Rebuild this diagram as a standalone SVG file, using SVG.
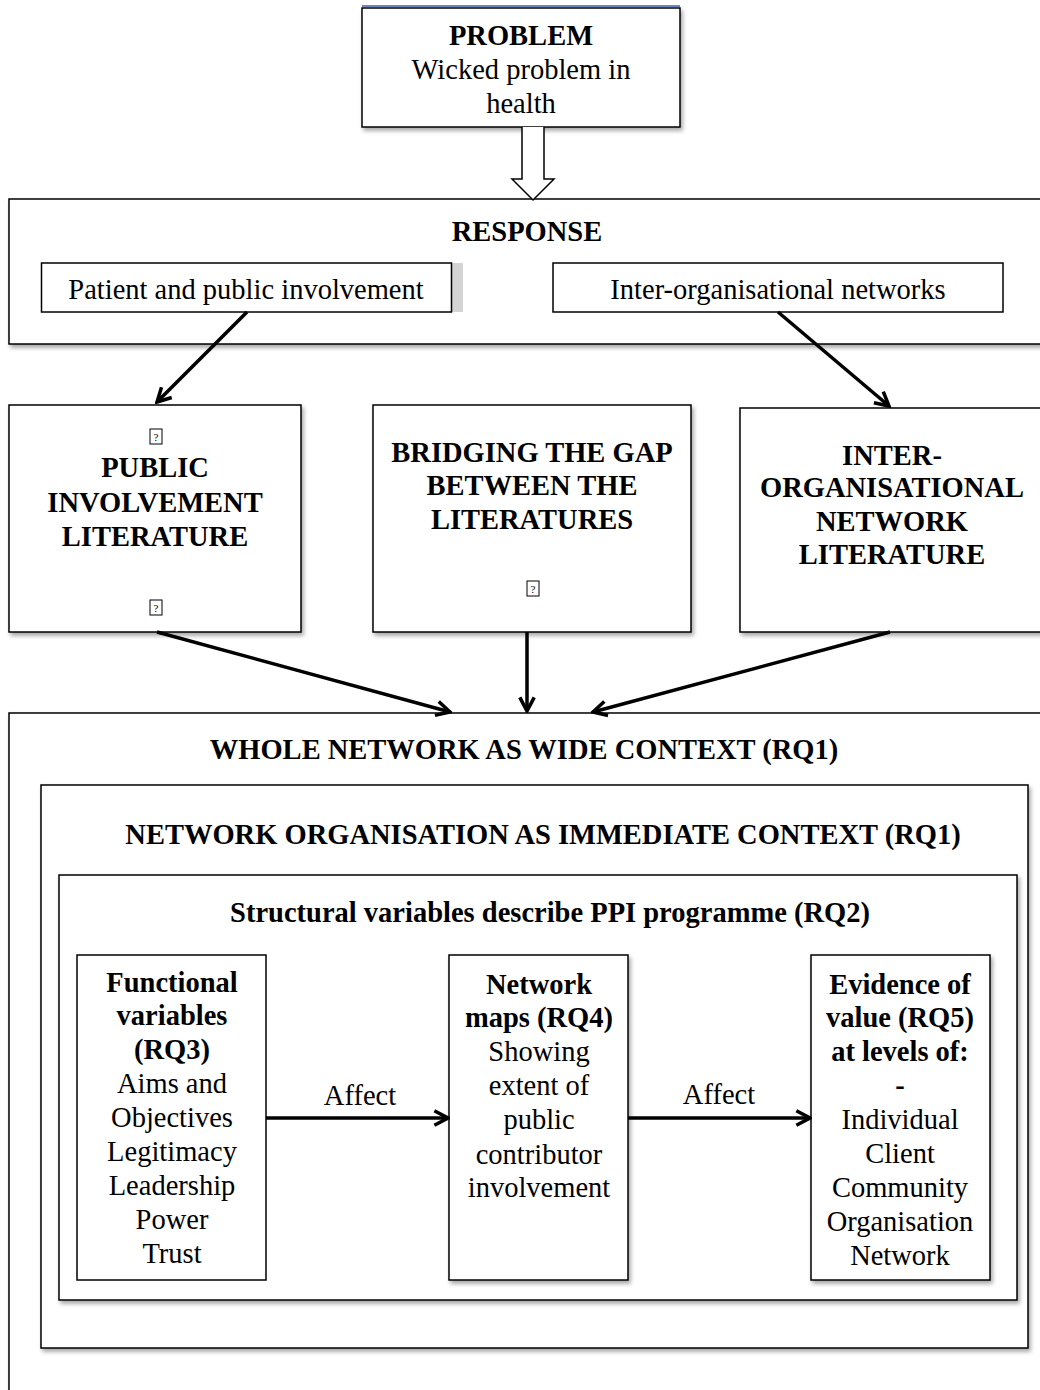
<svg xmlns="http://www.w3.org/2000/svg" width="1040" height="1390" viewBox="0 0 1040 1390">
  <style>
    .box { fill: #fff; stroke: #000; stroke-width: 1.5; }
    .sh { filter: url(#shadow); }
    .t { font-family: "Liberation Serif", "Times New Roman", serif; fill: #000; text-anchor: middle; }
    .r { font-size: 28.5px; }
    .b { font-size: 28.5px; font-weight: bold; }
    .b2 { font-size: 28.5px; font-weight: bold; }
    .q { font-family: "Liberation Serif", serif; font-size: 11px; text-anchor: middle; fill: #000; }
    .qb { fill: #fff; stroke: #000; stroke-width: 1; }
    .conn { stroke: #000; stroke-width: 3.5; fill: none; marker-end: url(#head); }
  </style>
  <defs>
    <filter id="shadow" x="-5%" y="-5%" width="115%" height="115%">
      <feDropShadow dx="2" dy="3" stdDeviation="2" flood-color="#000" flood-opacity="0.35"/>
    </filter>
    <marker id="head" viewBox="0 0 12 12" refX="10.5" refY="6" markerWidth="5.5" markerHeight="5.5" orient="auto" markerUnits="strokeWidth">
      <path d="M2,1.5 L10.5,6 L2,10.5" fill="none" stroke="#000" stroke-width="2.2" stroke-linejoin="miter"/>
    </marker>
  </defs>

  <rect width="1040" height="1390" fill="#fff"/>

  <!-- problem statement -->
  <g id="problem">
    <line x1="362" y1="6" x2="680" y2="6" stroke="#3a5fa8" stroke-width="1.5"/>
    <rect class="box sh" x="362" y="8" width="318" height="119"/>
    <text class="t b2" x="521" y="45">PROBLEM</text>
    <text class="t r" x="521" y="79">Wicked problem in</text>
    <text class="t r" x="521" y="113">health</text>
  </g>

  <!-- response block -->
  <g id="response">
    <rect class="box sh" x="9" y="199" width="1040" height="145"/>
    <text class="t b2" x="527" y="241">RESPONSE</text>
  </g>
  <g id="ppi">
    <rect x="452" y="263" width="11" height="49" fill="#d4d4d4"/>
    <rect class="box" x="41.5" y="263" width="410" height="49"/>
    <text class="t r" x="246" y="299">Patient and public involvement</text>
  </g>
  <g id="ion">
    <rect class="box" x="553" y="263" width="450" height="49"/>
    <text class="t r" x="778" y="299">Inter-organisational networks</text>
  </g>

  <!-- literatures -->
  <g id="lit-public">
    <rect class="box sh" x="9" y="405" width="292" height="227"/>
    <rect class="qb" x="150" y="429" width="12" height="15"/>
    <text class="q" x="156" y="441">?</text>
    <text class="t b" x="155" y="477">PUBLIC</text>
    <text class="t b" x="155" y="512">INVOLVEMENT</text>
    <text class="t b" x="155" y="546">LITERATURE</text>
    <rect class="qb" x="150" y="600" width="12" height="15"/>
    <text class="q" x="156" y="612">?</text>
  </g>
  <g id="lit-bridge">
    <rect class="box sh" x="373" y="405" width="318" height="227"/>
    <text class="t b" x="532" y="462">BRIDGING THE GAP</text>
    <text class="t b" x="532" y="495">BETWEEN THE</text>
    <text class="t b" x="532" y="529">LITERATURES</text>
    <rect class="qb" x="527" y="581" width="12" height="15"/>
    <text class="q" x="533" y="593">?</text>
  </g>
  <g id="lit-network">
    <rect class="box sh" x="740" y="408" width="310" height="224"/>
    <text class="t b" x="892" y="465">INTER-</text>
    <text class="t b" x="892" y="497">ORGANISATIONAL</text>
    <text class="t b" x="892" y="531">NETWORK</text>
    <text class="t b" x="892" y="564">LITERATURE</text>
  </g>

  <!-- nested contexts -->
  <g id="whole-network">
    <rect class="box sh" x="9" y="713" width="1045" height="700"/>
    <text class="t b" x="524" y="759">WHOLE NETWORK AS WIDE CONTEXT (RQ1)</text>
  </g>
  <g id="network-org">
    <rect class="box sh" x="41" y="785" width="987" height="563"/>
    <text class="t b" x="543" y="844">NETWORK ORGANISATION AS IMMEDIATE CONTEXT (RQ1)</text>
  </g>
  <g id="structural">
    <rect class="box sh" x="59" y="875" width="958" height="425"/>
    <text class="t b2" x="550" y="922">Structural variables describe PPI programme (RQ2)</text>
  </g>

  <g id="functional">
    <rect class="box" x="77" y="955" width="189" height="325"/>
    <text class="t b2" x="172" y="992">Functional</text>
    <text class="t b2" x="172" y="1025">variables</text>
    <text class="t b2" x="172" y="1059">(RQ3)</text>
    <text class="t r" x="172" y="1093">Aims and</text>
    <text class="t r" x="172" y="1127">Objectives</text>
    <text class="t r" x="172" y="1161">Legitimacy</text>
    <text class="t r" x="172" y="1195">Leadership</text>
    <text class="t r" x="172" y="1229">Power</text>
    <text class="t r" x="172" y="1263">Trust</text>
  </g>
  <g id="maps">
    <rect class="box sh" x="449" y="955" width="179" height="325"/>
    <text class="t b2" x="539" y="994">Network</text>
    <text class="t b2" x="539" y="1027">maps (RQ4)</text>
    <text class="t r" x="539" y="1061">Showing</text>
    <text class="t r" x="539" y="1095">extent of</text>
    <text class="t r" x="539" y="1129">public</text>
    <text class="t r" x="539" y="1164">contributor</text>
    <text class="t r" x="539" y="1197">involvement</text>
  </g>
  <g id="evidence">
    <rect class="box sh" x="811" y="955" width="179" height="325"/>
    <text class="t b2" x="900" y="994">Evidence of</text>
    <text class="t b2" x="900" y="1027">value (RQ5)</text>
    <text class="t b2" x="900" y="1061">at levels of:</text>
    <text class="t b2" x="900" y="1095">-</text>
    <text class="t r" x="900" y="1129">Individual</text>
    <text class="t r" x="900" y="1163">Client</text>
    <text class="t r" x="900" y="1197">Community</text>
    <text class="t r" x="900" y="1231">Organisation</text>
    <text class="t r" x="900" y="1265">Network</text>
  </g>

  <!-- connectors -->
  <g id="connectors">
    <path d="M522,127 V179 H512 L533,200 L554,179 H544 V127" fill="#fff" stroke="#000" stroke-width="1.5" stroke-linejoin="miter"/>
    <line class="conn" x1="247" y1="312" x2="157" y2="402"/>
    <line class="conn" x1="778" y1="312" x2="889" y2="406"/>
    <line class="conn" x1="157" y1="632" x2="450" y2="712"/>
    <line class="conn" x1="527" y1="632" x2="527" y2="711"/>
    <line class="conn" x1="890" y1="632" x2="593" y2="712"/>
    <line class="conn" x1="266" y1="1118" x2="448" y2="1118"/>
    <line class="conn" x1="628" y1="1118" x2="810" y2="1118"/>
    <text class="t r" x="360" y="1105">Affect</text>
    <text class="t r" x="719" y="1104">Affect</text>
  </g>
</svg>
